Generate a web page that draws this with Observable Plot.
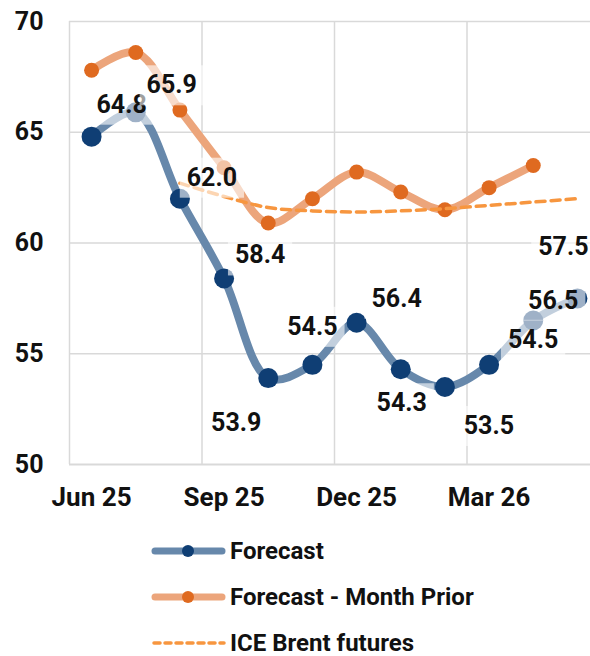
<!DOCTYPE html>
<html><head><meta charset="utf-8">
<script src="https://cdn.jsdelivr.net/npm/d3@7"></script>
<script src="https://cdn.jsdelivr.net/npm/@observablehq/plot@0.6"></script>
<style>
html,body{margin:0;padding:0;background:#fff;overflow:hidden;}
body{font-family:Roboto,"Noto Sans",sans-serif;color:#111;}
#legend{padding-top:8px;}
.row{display:flex;align-items:center;height:46px;margin-left:148px;font-weight:bold;font-size:24px;}
.row svg{margin-right:2px;}
</style></head><body>
<div id="chart"></div>
<div id="legend"></div>
<script>
const months = ["Jun 25","Jul 25","Aug 25","Sep 25","Oct 25","Nov 25","Dec 25","Jan 26","Feb 26","Mar 26","Apr 26","May 26"];
const forecast = [64.8,65.9,62.0,58.4,53.9,54.5,56.4,54.3,53.5,54.5,56.5,57.5];
const monthPrior = [67.8,68.6,66.0,63.4,60.9,62.0,63.2,62.3,61.5,62.5,63.5,null];
const futures = [null,null,62.7,62.1,61.6,61.45,61.4,61.45,61.55,61.7,61.85,62.0];
const forecastLabels = ["64.8","65.9","62.0","58.4","53.9","54.5","56.4","54.3","53.5","54.5","56.5","57.5"];
const labelOffsets = [[30,-32],[36,-27],[32,-21],[36,-23],[-32,45],[0,-38],[40,-24],[1,34],[44,39],[44,-25],[20,-20],[-14,-51]];
const yTicks = [50,55,60,65,70];
const xTickMonths = ["Jun 25","Sep 25","Dec 25","Mar 26"];

const navy = "#0f3e74", blueLine = "#6788ab";
const orangeDot = "#df6a20", orangeLine = "#eca57b", dashCol = "#f7963f";

const fc = months.map((m,i)=>({i, v: forecast[i]}));
const mp = months.map((m,i)=>({i, v: monthPrior[i]})).filter(d=>d.v!=null);
const fu = months.map((m,i)=>({i, v: futures[i]})).filter(d=>d.v!=null);
const xTickIdx = xTickMonths.map(m=>months.indexOf(m));

const labelMarks = fc.map((d,k)=>Plot.text([d], {
  x:"i", y:"v", text: ()=>forecastLabels[k], dx: labelOffsets[k][0], dy: labelOffsets[k][1],
  fontSize:25, fontWeight:"bold", fill:"#111"
}));

const chart = Plot.plot({
  width: 590, height: 520,
  marginLeft: 69, marginRight: 0, marginTop: 21, marginBottom: 56,
  style: {fontFamily:"Roboto, sans-serif", fontSize:"25px", color:"#111", background:"#fff"},
  x: {type:"linear", domain:[-0.5, 11.5], range:[69, 599]},
  y: {domain:[50,70], range:[464,21]},
  marks: [
    Plot.ruleY(yTicks.filter(t=>t>50), {stroke:"#d9d9d9", strokeWidth:1.5}),
    Plot.ruleX(xTickIdx.map(i=>i-0.5), {stroke:"#d9d9d9", strokeWidth:1.5}),
    Plot.ruleY([50], {stroke:"#d9d9d9", strokeWidth:2}),
    Plot.axisY({ticks: yTicks, tickSize:0, tickPadding:26, fontSize:25, fontWeight:"bold", label:null}),
    Plot.axisX({ticks: xTickIdx, tickFormat: i=>months[i], tickSize:0, tickPadding:23, fontSize:26, fontWeight:"bold", label:null}),
    Plot.line(mp, {x:"i", y:"v", curve:"catmull-rom", stroke:orangeLine, strokeWidth:8, strokeLinecap:"round"}),
    Plot.dot(mp, {x:"i", y:"v", r:7.5, fill:orangeDot}),
    Plot.line(fu, {x:"i", y:"v", curve:"catmull-rom", stroke:dashCol, strokeWidth:3.5, strokeDasharray:"9,6"}),
    Plot.line(fc, {x:"i", y:"v", curve:"catmull-rom", stroke:blueLine, strokeWidth:8, strokeLinecap:"round"}),
    Plot.dot(fc, {x:"i", y:"v", r:10, fill:navy}),
    ...labelMarks
  ]
});
document.getElementById("chart").appendChild(chart);

// semi-transparent white boxes behind data labels (Plot text marks are the only g[aria-label="text"])
chart.querySelectorAll('g[aria-label="text"] text').forEach(t=>{
  const b = t.getBBox();
  const r = document.createElementNS("http://www.w3.org/2000/svg","rect");
  r.setAttribute("x", b.x-7); r.setAttribute("y", b.y-5);
  r.setAttribute("width", b.width+14); r.setAttribute("height", b.height+11);
  r.setAttribute("fill","#fff"); r.setAttribute("fill-opacity","0.6");
  const tr = t.getAttribute("transform");
  if (tr) r.setAttribute("transform", tr);
  t.parentNode.insertBefore(r, t);
});

// legend
const legendItems = [
  {name:"Forecast", line:blueLine, dot:navy, dash:false},
  {name:"Forecast - Month Prior", line:orangeLine, dot:orangeDot, dash:false},
  {name:"ICE Brent futures", line:dashCol, dot:null, dash:true}
];
const leg = document.getElementById("legend");
legendItems.forEach(it=>{
  const row = document.createElement("div"); row.className="row";
  let sw;
  if (it.dash) {
    sw = `<svg width="80" height="20"><line x1="6" y1="10" x2="76" y2="10" stroke="${it.line}" stroke-width="3.5" stroke-dasharray="6,5" stroke-linecap="round"/></svg>`;
  } else {
    sw = `<svg width="80" height="20"><line x1="7" y1="10" x2="74" y2="10" stroke="${it.line}" stroke-width="7" stroke-linecap="round"/><circle cx="40" cy="10" r="6" fill="${it.dot}"/></svg>`;
  }
  row.innerHTML = sw + `<span>${it.name}</span>`;
  leg.appendChild(row);
});
</script>
</body></html>
